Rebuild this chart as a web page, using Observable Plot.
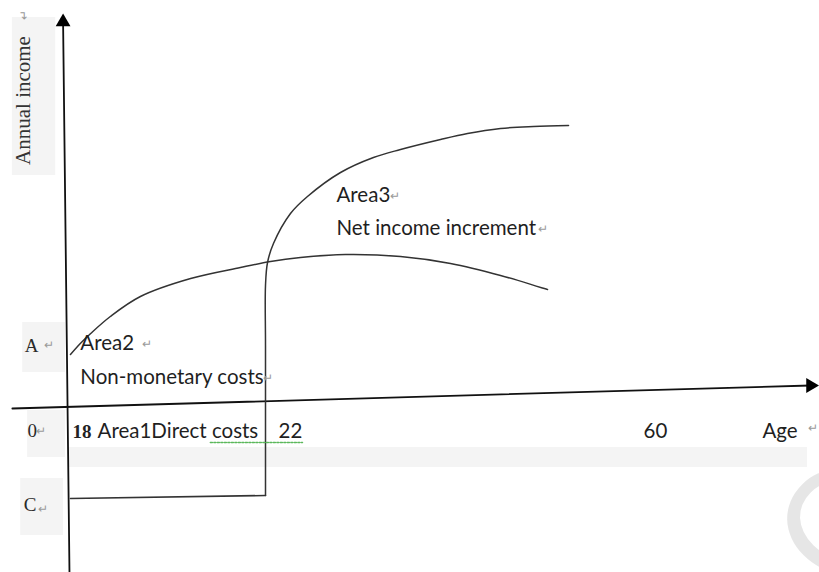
<!DOCTYPE html>
<html><head><meta charset="utf-8">
<script src="https://cdn.jsdelivr.net/npm/d3@7"></script>
<script src="https://cdn.jsdelivr.net/npm/@observablehq/plot@0.6"></script>
<style>body{margin:0;background:#fff;overflow:hidden}</style>
</head><body><div id="chart"></div>
<script>
// Lower curve: income when starting work at 18 (Area 2 below it)
const workAge = [18.04, 18.24, 18.45, 18.85, 19.46, 20.48, 21.49, 22.52, 25.64, 30.33, 36.06, 41.26, 46.47, 51.36];
const workIncome = [1.02, 1.24, 1.44, 1.78, 2.18, 2.54, 2.76, 2.88, 2.96, 3.02, 2.98, 2.84, 2.6, 2.32];
// Upper curve: income after college (starts at 22)
const collegeAge = [22, 22, 22, 22.21, 22.83, 24.6, 26.37, 29.81, 33.24, 36.06, 40.22, 43.03, 46.47, 49.9, 53.55];
const collegeIncome = [-1.8, 1.2, 2.4, 2.86, 3.24, 3.84, 4.18, 4.66, 4.96, 5.12, 5.32, 5.44, 5.54, 5.58, 5.6];
// Direct costs while studying (level C)
const costAge = [18.04, 22];
const costIncome = [-1.86, -1.8];
// Axes (hand-drawn, slightly tilted)
const xAxisAge = [16.86, 78.74];
const xAxisIncome = [-0.06, 0.4];
const yAxisAge = [18.02, 17.89];
const yAxisIncome = [-3.34, 7.67];
// Age tick labels
const tickAges = [18, 22, 60];
const tickLabels = ["18", "22", "60"];
// Income level labels
const levelLabels = ["A", "0", "C"];
const levelAge = [17.11, 17.17, 17.09];
const levelIncome = [1.08, -0.62, -2.1];
// Area annotations
const noteLabels = ["Area3", "Net income increment", "Area2", "Non-monetary costs", "Area1Direct costs", "Age"];
const noteAge = [29.39, 29.39, 18.24, 18.24, 18.59, 73.74];
const noteIncome = [4.08, 3.42, 1.12, 0.44, -0.64, -0.64];
// Paragraph marks (Word formatting)
const markAge = [17.61, 19.6, 22.3, 35.53, 50.9, 17.45, 17.49, 79.05];
const markIncome = [1.2, 1.22, 0.54, 4.18, 3.52, -0.52, -2.08, -0.46];
// Shaded text boxes
const boxAge1 = [16.86, 17.07, 17.17, 17.03, 18.0];
const boxAge2 = [17.74, 17.94, 17.94, 17.9, 78.43];
const boxIncome1 = [4.6, 0.66, -1.04, -2.6, -1.24];
const boxIncome2 = [7.76, 1.66, -0.1, -1.46, -0.84];
// Watermark (partly visible)
const watermark = ["C"];

const pts = (a, b) => a.map((v, i) => ({x: v, y: b[i]}));
const boxes = boxAge1.map((v, i) => ({x1: v, x2: boxAge2[i], y1: boxIncome1[i], y2: boxIncome2[i]}));
const ticks = tickAges.map((v, i) => ({x: v, label: tickLabels[i]}));
const levels = levelLabels.map((t, i) => ({x: levelAge[i], y: levelIncome[i], t}));
const notes = noteLabels.map((t, i) => ({x: noteAge[i], y: noteIncome[i], t}));
const marks = pts(markAge, markIncome);

const sans = "Lato, 'Open Sans', sans-serif";
const serif = "'Liberation Serif', 'DejaVu Serif', serif";

const chart = Plot.plot({
  width: 819,
  height: 572,
  margin: 0,
  style: {background: "#fff", overflow: "hidden"},
  x: {type: "linear", domain: [18, 22, 60], range: [68, 265, 630], axis: null},
  y: {type: "linear", domain: [-3, 8], range: [555, 5], axis: null},
  marks: [
    Plot.rect(boxes, {x1: "x1", x2: "x2", y1: "y1", y2: "y2", fill: "#f4f4f4"}),
    Plot.text(watermark, {x: [81.24], y: [-3.8], text: d => d, fontSize: 140, fontFamily: sans, fill: "#e6e6e6", rotate: -45, textAnchor: "start", lineAnchor: "bottom"}),
    Plot.line(pts(xAxisAge, xAxisIncome), {x: "x", y: "y", stroke: "#111", strokeWidth: 1.8}),
    Plot.line(pts(yAxisAge, yAxisIncome), {x: "x", y: "y", stroke: "#111", strokeWidth: 1.8}),
    Plot.dot([{x: 78.74, y: 0.4}], {x: "x", y: "y", symbol: "triangle", r: 5.5, fill: "#000", stroke: null, rotate: 90}),
    Plot.dot([{x: 17.89, y: 7.67}], {x: "x", y: "y", symbol: "triangle", r: 5.5, fill: "#000", stroke: null}),
    Plot.line(pts(costAge, costIncome), {x: "x", y: "y", stroke: "#333", strokeWidth: 1.6}),
    Plot.line(pts(collegeAge, collegeIncome), {x: "x", y: "y", stroke: "#333", strokeWidth: 1.5, curve: "catmull-rom"}),
    Plot.line(pts(workAge, workIncome), {x: "x", y: "y", stroke: "#333", strokeWidth: 1.5, curve: "catmull-rom"}),
    Plot.line(pts([20.88, 25.85], [-0.74, -0.74]), {x: "x", y: "y", stroke: "#5cb85c", strokeWidth: 1.5, strokeDasharray: "2,1.5"}),
    Plot.text(ticks.slice(0, 1), {x: "x", y: -0.64, text: "label", textAnchor: "start", lineAnchor: "bottom", dx: 4, fontFamily: serif, fontWeight: "bold", fontSize: 19, fill: "#222"}),
    Plot.text(ticks.slice(1), {x: "x", y: -0.64, text: "label", textAnchor: "start", lineAnchor: "bottom", dx: 13, fontFamily: sans, fontSize: 20.5, fill: "#1f1f1f"}),
    Plot.text(levels, {x: "x", y: "y", text: "t", textAnchor: "start", lineAnchor: "bottom", fontFamily: serif, fontSize: 19, fill: "#2a2a2a"}),
    Plot.text(notes, {x: "x", y: "y", text: "t", textAnchor: "start", lineAnchor: "bottom", fontFamily: sans, fontSize: 20.5, fill: "#1f1f1f"}),
    Plot.text(["Annual income"], {x: [17.09], y: [6.1], text: d => d, rotate: -90, fontFamily: serif, fontSize: 21, fill: "#333"}),
    Plot.text(marks, {x: "x", y: "y", text: () => "↵", fontFamily: sans, fontSize: 12, fill: "#9a9a9a"}),
    Plot.text(["↵"], {x: [17.09], y: [7.82], text: d => d, rotate: -90, fontFamily: sans, fontSize: 12, fill: "#9a9a9a"})
  ]
});
document.getElementById("chart").appendChild(chart);
</script>
</body></html>
